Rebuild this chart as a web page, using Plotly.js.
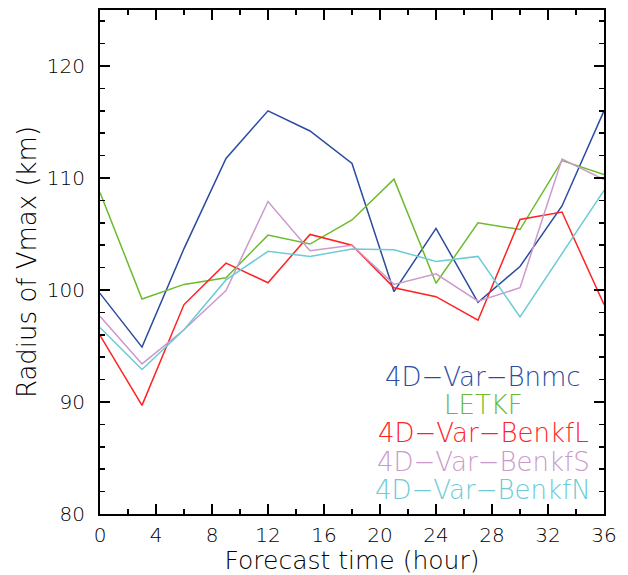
<!DOCTYPE html>
<html>
<head>
<meta charset="utf-8">
<script src="https://cdn.plot.ly/plotly-3.0.1.min.js"></script>
<style>html,body{margin:0;padding:0;background:#fff;}#chart{width:628px;height:575px;}</style>
</head>
<body>
<div id="chart"></div>
<script>
// Forecast hours
var hours = [0, 3, 6, 9, 12, 15, 18, 21, 24, 27, 30, 33, 36];
// Radius of Vmax (km) per experiment
var bnmc   = [99.7, 94.9, 103.7, 111.75, 116.0, 114.2, 111.3, 99.85, 105.5, 98.9, 102.1, 107.5, 116.0];
var letkf  = [108.7, 99.2, 100.5, 101.1, 104.9, 104.1, 106.25, 109.9, 100.6, 106.0, 105.4, 111.55, 110.3];
var benkfL = [95.95, 89.7, 98.7, 102.4, 100.65, 104.96, 104.0, 100.2, 99.4, 97.3, 106.3, 106.96, 98.7];
var benkfS = [97.65, 93.4, 96.45, 99.96, 107.9, 103.5, 104.0, 100.5, 101.45, 99.0, 100.2, 111.7, 109.85];
var benkfN = [96.65, 92.9, 96.45, 100.9, 103.45, 103.0, 103.65, 103.6, 102.55, 103.0, 97.6, 103.2, 108.9];

var names  = ["4D\u2212Var\u2212Bnmc", "LETKF", "4D\u2212Var\u2212BenkfL", "4D\u2212Var\u2212BenkfS", "4D\u2212Var\u2212BenkfN"];
var series = [bnmc, letkf, benkfL, benkfS, benkfN];
var colors = ["#2b4ba0", "#6cbb2c", "#ff2222", "#cc99cc", "#6ccbd6"];

var xTicks = [0, 4, 8, 12, 16, 20, 24, 28, 32, 36];
var yTicks = [80, 90, 100, 110, 120];

var FONT = "DejaVu Sans, sans-serif";

var traces = series.map(function (s, i) {
  return {
    x: hours, y: s, type: "scatter", mode: "lines", name: names[i],
    line: {color: colors[i], width: 1.5}, showlegend: false, hoverinfo: "skip"
  };
});

var annotations = names.map(function (n, i) {
  return {
    text: n, xref: "paper", yref: "paper", x: 0.76, y: 0.272 - i * 0.056,
    xanchor: "center", yanchor: "middle", showarrow: false,
    font: {family: FONT, size: 26, color: colors[i], weight: 200}
  };
});

var axisCommon = {
  showline: true, linecolor: "#000", linewidth: 2, mirror: "ticks",
  ticks: "inside", ticklen: 10, tickwidth: 1.5, tickcolor: "#000",
  showgrid: false, zeroline: false, fixedrange: true,
  tickfont: {family: FONT, size: 20, color: "#000", weight: 200}
};

var layout = {
  width: 628, height: 575,
  margin: {l: 100, r: 24, t: 10, b: 61},
  paper_bgcolor: "#fff", plot_bgcolor: "#fff",
  showlegend: false,
  xaxis: Object.assign({}, axisCommon, {
    range: [0, 36], tickmode: "array", tickvals: xTicks, ticktext: xTicks.map(String),
    ticklabelstandoff: 2,
    minor: {dtick: 2, tick0: 0, ticks: "inside", ticklen: 5, tickwidth: 1.5, tickcolor: "#000", showgrid: false},
    title: {text: "Forecast time (hour)", standoff: 15, font: {family: FONT, size: 25, color: "#000", weight: 200}}
  }),
  yaxis: Object.assign({}, axisCommon, {
    range: [80, 125], tickmode: "array", tickvals: yTicks, ticktext: yTicks.map(String),
    ticklabelstandoff: 9,
    minor: {dtick: 2, tick0: 80, ticks: "inside", ticklen: 5, tickwidth: 1.5, tickcolor: "#000", showgrid: false},
    title: {text: "Radius of Vmax (km)", standoff: 3, font: {family: FONT, size: 26, color: "#000", weight: 200}}
  }),
  annotations: annotations
};

Plotly.newPlot("chart", traces, layout, {displayModeBar: false, staticPlot: true});
</script>
</body>
</html>
